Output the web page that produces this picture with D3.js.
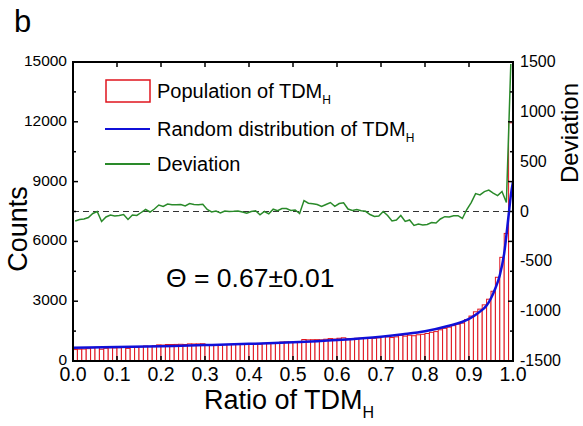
<!DOCTYPE html>
<html>
<head>
<meta charset="utf-8">
<script src="https://cdn.jsdelivr.net/npm/d3@7"></script>
<style>
  body { margin: 0; background: #fff; }
  svg { display: block; font-family: Arial, "Liberation Sans", sans-serif; }
</style>
</head>
<body>
<div id="chart"></div>
<script>
// Histogram of TDM_H ratio, 100 bins of width 0.01
const binWidth = 0.01;
const counts = [
  574, 592, 600, 619, 662, 686, 590, 638, 662, 656,
  665, 679, 633, 682, 681, 716, 750, 729, 764, 808,
  798, 828, 826, 831, 838, 828, 858, 853, 857, 866,
  820, 801, 817, 803, 829, 831, 839, 849, 846, 841,
  865, 880, 847, 888, 873, 927, 920, 950, 959, 948,
  963, 938, 1078, 1061, 1067, 1070, 1061, 1093, 1125, 1100,
  1141, 1163, 1114, 1114, 1140, 1144, 1155, 1140, 1139, 1163,
  1228, 1210, 1177, 1211, 1281, 1248, 1292, 1267, 1315, 1339,
  1380, 1440, 1475, 1565, 1638, 1697, 1773, 1848, 1900, 2080,
  2254, 2468, 2602, 2816, 3100, 3500, 4200, 5200, 6400, 11950
];

// Random distribution curve
const randomX = [0, 0.1, 0.2, 0.3, 0.4, 0.5, 0.6, 0.7, 0.75, 0.8, 0.85, 0.9,
  0.92, 0.94, 0.95, 0.96, 0.97, 0.98, 0.99, 0.995, 1.0];
const randomY = [667, 700, 745, 797, 860, 940, 1055, 1220, 1340, 1490, 1740, 2110,
  2400, 2780, 3150, 3650, 4300, 5400, 7300, 8300, 9000];

// Deviation at bin centres
const deviation = [
  -95, -80, -75, -60, -20, 0, -100, -55, -35, -45,
  -40, -30, -80, -35, -40, -10, 20, -5, 25, 65,
  50, 75, 68, 68, 70, 55, 80, 70, 68, 72,
  20, -5, 5, -15, 5, 0, 2, 5, -5, -17,
  0, 8, -33, 0, -23, 23, 8, 30, 30, 10,
  15, -20, 110, 83, 78, 70, 50, 70, 90, 52,
  80, 88, 25, 10, 20, 8, 2, -30, -50, -45,
  0, -40, -95, -85, -40, -100, -85, -140, -125, -135,
  -130, -110, -115, -75, -52, -55, -42, -42, -70, 20,
  90, 180, 167, 200, 215, 185, 160, 200, 90, 1480
];

const xTicks = [0, 0.1, 0.2, 0.3, 0.4, 0.5, 0.6, 0.7, 0.8, 0.9, 1.0];
const countTicks = [0, 3000, 6000, 9000, 12000, 15000];
const devTicks = [-1500, -1000, -500, 0, 500, 1000, 1500];

const W = 583, H = 426;
const L = 73, R = 513, T = 62, B = 361;
const red = '#e0141e', blue = '#1010d8', green = '#2a8a2a';

const svg = d3.select('#chart').append('svg')
  .attr('width', W).attr('height', H);

const x = d3.scaleLinear().domain([0, 1]).range([L, R]);
const yC = d3.scaleLinear().domain([0, 15000]).range([B, T]);
const yD = d3.scaleLinear().domain([-1500, 1500]).range([B, T]);

svg.append('clipPath').attr('id', 'plot-clip')
  .append('rect').attr('x', L).attr('y', T).attr('width', R - L).attr('height', B - T);

const plot = svg.append('g').attr('clip-path', 'url(#plot-clip)');

// Bars
plot.selectAll('.bar')
  .data(counts)
  .join('rect')
  .attr('class', 'bar')
  .attr('x', (d, i) => x(i * binWidth))
  .attr('width', x(binWidth) - x(0))
  .attr('y', d => yC(d))
  .attr('height', d => B - yC(d))
  .attr('fill', '#fff')
  .attr('stroke', red)
  .attr('stroke-width', 1);

// Random distribution
const randomData = randomX.map((v, i) => [v, randomY[i]]);
plot.append('path')
  .datum(randomData)
  .attr('fill', 'none')
  .attr('stroke', blue)
  .attr('stroke-width', 2.5)
  .attr('d', d3.line().x(d => x(d[0])).y(d => yC(d[1])).curve(d3.curveMonotoneX));

// Zero line of deviation
plot.append('line')
  .attr('x1', L).attr('x2', R)
  .attr('y1', yD(0)).attr('y2', yD(0))
  .attr('stroke', '#333')
  .attr('stroke-width', 1.2)
  .attr('stroke-dasharray', '6,4');

// Deviation
plot.append('path')
  .datum(deviation)
  .attr('fill', 'none')
  .attr('stroke', green)
  .attr('stroke-width', 1.5)
  .attr('d', d3.line().x((d, i) => x((i + 0.5) * binWidth)).y(d => yD(d)));

// Frame
svg.append('rect')
  .attr('x', L).attr('y', T).attr('width', R - L).attr('height', B - T)
  .attr('fill', 'none').attr('stroke', '#000').attr('stroke-width', 2);

// Ticks (inward)
const tickG = svg.append('g').attr('stroke', '#000').attr('stroke-width', 1.5);
xTicks.forEach(t => {
  tickG.append('line').attr('x1', x(t)).attr('x2', x(t)).attr('y1', B).attr('y2', B - 5);
  tickG.append('line').attr('x1', x(t)).attr('x2', x(t)).attr('y1', T).attr('y2', T + 5);
});
d3.range(0, 15001, 1500).forEach(t => {
  const len = t % 3000 === 0 ? 5 : 3;
  tickG.append('line').attr('x1', L).attr('x2', L + len).attr('y1', yC(t)).attr('y2', yC(t));
  tickG.append('line').attr('x1', R).attr('x2', R - len).attr('y1', yC(t)).attr('y2', yC(t));
});

// Tick labels
svg.append('g').selectAll('text')
  .data(xTicks).join('text')
  .attr('x', d => x(d)).attr('y', 381)
  .attr('text-anchor', 'middle')
  .attr('font-size', 19.5)
  .text(d => d.toFixed(1));

svg.append('g').selectAll('text')
  .data(countTicks).join('text')
  .attr('x', 67).attr('y', d => yC(d) + 4)
  .attr('text-anchor', 'end')
  .attr('font-size', 15.5)
  .text(d => d);

svg.append('g').selectAll('text')
  .data(devTicks).join('text')
  .attr('x', 520).attr('y', d => yD(d) + 5)
  .attr('text-anchor', 'start')
  .attr('font-size', 16)
  .text(d => d);

// Axis titles
svg.append('text')
  .attr('transform', 'translate(27,229) rotate(-90)')
  .attr('text-anchor', 'middle')
  .attr('font-size', 27)
  .text('Counts');

svg.append('text')
  .attr('transform', 'translate(578,133) rotate(-90)')
  .attr('text-anchor', 'middle')
  .attr('font-size', 24)
  .text('Deviation');

const xt = svg.append('text')
  .attr('x', 204).attr('y', 409)
  .attr('font-size', 27);
xt.append('tspan').text('Ratio of TDM');
xt.append('tspan').attr('font-size', 16).attr('dy', 9).text('H');

// Panel letter
svg.append('text').attr('x', 14).attr('y', 32).attr('font-size', 31).text('b');

// Theta annotation
svg.append('text').attr('x', 166).attr('y', 287).attr('font-size', 26.5)
  .text('\u0398 = 0.67\u00b10.01');

// Legend
const lg = svg.append('g');
lg.append('rect').attr('x', 106).attr('y', 80).attr('width', 44).attr('height', 22)
  .attr('fill', '#fff').attr('stroke', red).attr('stroke-width', 1.5);
const t1 = lg.append('text').attr('x', 157).attr('y', 98).attr('font-size', 20);
t1.append('tspan').text('Population of TDM');
t1.append('tspan').attr('font-size', 12).attr('dy', 6).text('H');

lg.append('line').attr('x1', 105).attr('x2', 150).attr('y1', 129).attr('y2', 129)
  .attr('stroke', blue).attr('stroke-width', 2);
const t2 = lg.append('text').attr('x', 157).attr('y', 136).attr('font-size', 20);
t2.append('tspan').text('Random distribution of TDM');
t2.append('tspan').attr('font-size', 12).attr('dy', 6).text('H');

lg.append('line').attr('x1', 105).attr('x2', 150).attr('y1', 164).attr('y2', 164)
  .attr('stroke', green).attr('stroke-width', 2);
lg.append('text').attr('x', 157).attr('y', 171).attr('font-size', 20).text('Deviation');
</script>
</body>
</html>
